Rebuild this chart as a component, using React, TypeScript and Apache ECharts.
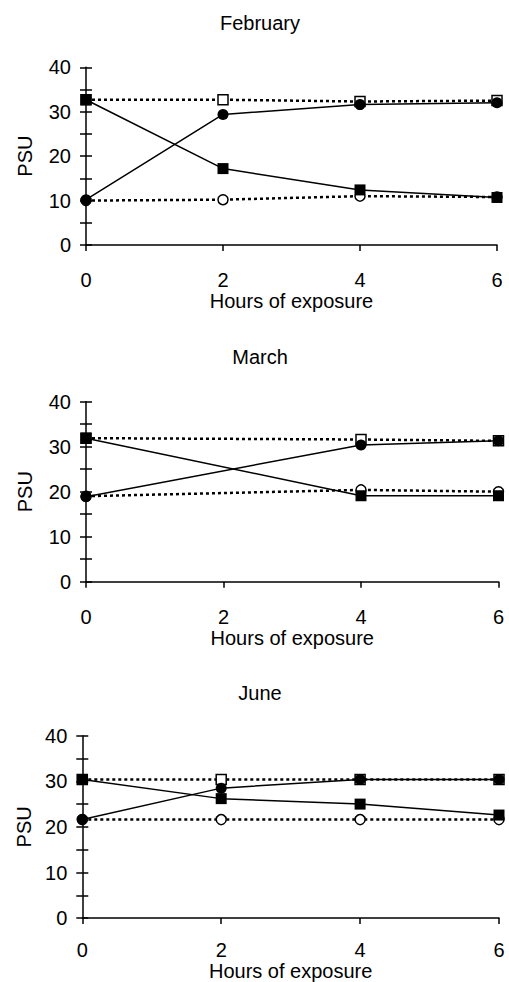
import React, { useEffect, useRef } from "react";
import * as echarts from "echarts";

const febHours = [0, 2, 4, 6];
const febCircleSolid = [10.2, 29.4, 31.6, 32.0];
const febSquareSolid = [32.7, 17.2, 12.4, 10.7];
const febSquareDotted = [32.7, 32.7, 32.3, 32.5];
const febCircleDotted = [10.0, 10.2, 11.0, 10.8];

const marHours = [0, 4, 6];
const marCircleSolid = [18.9, 30.4, 31.3];
const marSquareSolid = [31.9, 19.1, 19.1];
const marSquareDotted = [31.9, 31.6, 31.3];
const marCircleDotted = [19.0, 20.4, 20.0];

const junHours = [0, 2, 4, 6];
const junCircleSolid = [21.6, 28.5, 30.4, 30.4];
const junSquareSolid = [30.4, 26.2, 25.0, 22.6];
const junSquareDotted = [30.4, 30.4, 30.4, 30.4];
const junCircleDotted = [21.6, 21.6, 21.6, 21.6];

const months = ["February", "March", "June"];
const xTicks = [0, 2, 4, 6];
const yLabelTicks = [0, 10, 20, 30, 40];

const FONT = "Liberation Sans, Arial, sans-serif";

export default function App() {
  const ref = useRef<HTMLDivElement>(null);
  useEffect(() => {
    if (!ref.current) return;
    const chart = echarts.init(ref.current, undefined, { renderer: "svg" });

    const panels = [
      { hours: febHours, cs: febCircleSolid, ss: febSquareSolid, sd: febSquareDotted, cd: febCircleDotted },
      { hours: marHours, cs: marCircleSolid, ss: marSquareSolid, sd: marSquareDotted, cd: marCircleDotted },
      { hours: junHours, cs: junCircleSolid, ss: junSquareSolid, sd: junSquareDotted, cd: junCircleDotted },
    ];
    const grids = [
      { left: 86, top: 67.3, width: 411, height: 177.7 },
      { left: 86, top: 401.7, width: 412.5, height: 180 },
      { left: 82.3, top: 735.7, width: 416.7, height: 184.3 },
    ];
    const titleTops = [13, 347, 683];
    const xLabelMargin = [25, 25, 22];
    const xNameGap = [45, 45, 42];
    const yNameGap = [51, 51, 47];

    const pair = (h: number[], v: number[]) => h.map((x, i) => [x, v[i]]);

    const xAxis: any[] = [];
    const yAxis: any[] = [];
    const series: any[] = [];
    const axisLine = { show: true, lineStyle: { color: "#000", width: 1.5 } };

    grids.forEach((g, i) => {
      xAxis.push({
        gridIndex: i,
        type: "value",
        min: 0,
        max: 6,
        interval: 2,
        name: "Hours of exposure",
        nameLocation: "middle",
        nameGap: xNameGap[i],
        nameTextStyle: { color: "#000", fontSize: 20, fontFamily: FONT },
        axisLine,
        axisTick: { show: true, inside: false, length: 6, lineStyle: { color: "#000", width: 1.5 } },
        axisLabel: {
          color: "#000",
          fontSize: 20,
          fontFamily: FONT,
          margin: xLabelMargin[i],
          formatter: (v: number) => (xTicks.includes(v) ? String(v) : ""),
        },
        splitLine: { show: false },
      });
      yAxis.push({
        gridIndex: i,
        type: "value",
        position: "left",
        min: 0,
        max: 40,
        interval: 5,
        name: "PSU",
        nameLocation: "middle",
        nameGap: yNameGap[i],
        nameRotate: 90,
        nameTextStyle: { color: "#000", fontSize: 20, fontFamily: FONT },
        axisLine,
        axisTick: { show: true, inside: false, length: 6, lineStyle: { color: "#000", width: 1.5 } },
        axisLabel: {
          color: "#000",
          fontSize: 20,
          fontFamily: FONT,
          margin: 15,
          formatter: (v: number) => (yLabelTicks.includes(v) ? String(v) : ""),
        },
        splitLine: { show: false },
      });
      yAxis.push({
        gridIndex: i,
        type: "value",
        position: "left",
        offset: 0,
        min: 0,
        max: 40,
        interval: 5,
        axisLine: { show: false },
        axisTick: { show: true, inside: true, length: 6, lineStyle: { color: "#000", width: 1.5 } },
        axisLabel: { show: false },
        splitLine: { show: false },
      });
    });

    panels.forEach((p, i) => {
      const base = { xAxisIndex: i, yAxisIndex: i * 2, type: "line", symbolSize: 11 };
      const dotted = { color: "#000", width: 2.5, type: [3, 3] };
      series.push({
        ...base,
        name: months[i] + " open square",
        data: pair(p.hours, p.sd),
        symbol: "rect",
        symbolSize: 10,
        lineStyle: dotted,
        itemStyle: { color: "#fff", borderColor: "#000", borderWidth: 1.5 },
        z: 2,
      });
      series.push({
        ...base,
        name: months[i] + " open circle",
        data: pair(p.hours, p.cd),
        symbol: "circle",
        symbolSize: 10,
        lineStyle: dotted,
        itemStyle: { color: "#fff", borderColor: "#000", borderWidth: 1.5 },
        z: 2,
      });
      series.push({
        ...base,
        name: months[i] + " filled square",
        data: pair(p.hours, p.ss),
        symbol: "rect",
        lineStyle: { color: "#000", width: 1.5, type: "solid" },
        itemStyle: { color: "#000", borderColor: "#000", borderWidth: 0 },
        z: 3,
      });
      series.push({
        ...base,
        name: months[i] + " filled circle",
        data: pair(p.hours, p.cs),
        symbol: "circle",
        lineStyle: { color: "#000", width: 1.5, type: "solid" },
        itemStyle: { color: "#000", borderColor: "#000", borderWidth: 0 },
        z: 3,
      });
    });

    chart.setOption({
      animation: false,
      backgroundColor: "#fff",
      title: months.map((m, i) => ({
        text: m,
        left: 260,
        top: titleTops[i],
        padding: 0,
        textAlign: "center",
        textVerticalAlign: "top",
        textStyle: { color: "#000", fontSize: 20, fontWeight: "normal", fontFamily: FONT },
      })),
      grid: grids.map((g) => ({ ...g, containLabel: false })),
      xAxis,
      yAxis,
      series,
    });
    return () => chart.dispose();
  }, []);
  return (
    <div
      ref={ref}
      style={{ position: "absolute", left: 0, top: 0, width: 509, height: 982 }}
    />
  );
}
